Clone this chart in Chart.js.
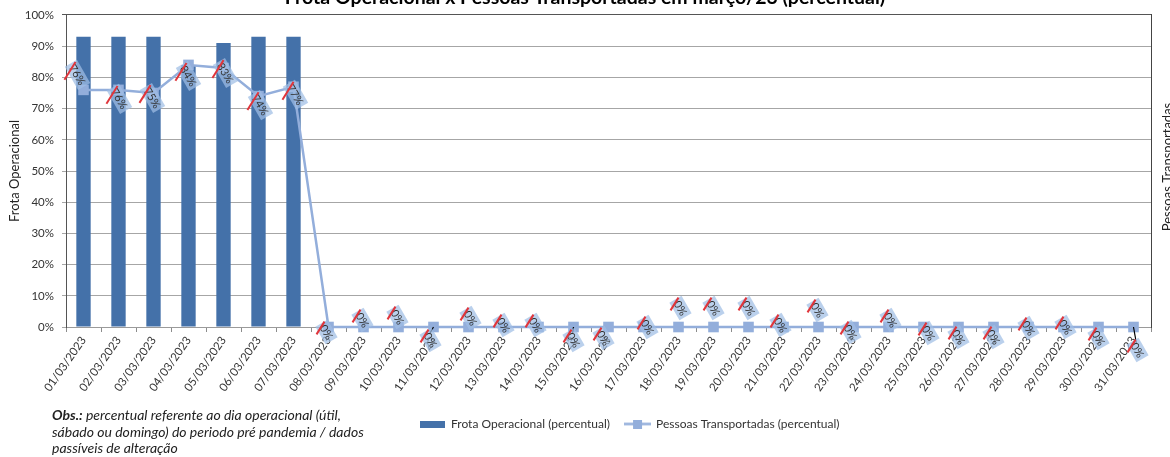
<!DOCTYPE html>
<html><head><meta charset="utf-8">
<script src="https://cdn.jsdelivr.net/npm/chart.js@4.4.1/dist/chart.umd.min.js"></script>
<style>html,body{margin:0;padding:0;background:#fff;overflow:hidden}#wrap{width:1170px;height:457px;position:relative}</style>
</head><body><div id="wrap"><canvas id="c" width="1170" height="457"></canvas></div>
<script>
const days = ['01/03/2023','02/03/2023','03/03/2023','04/03/2023','05/03/2023','06/03/2023','07/03/2023','08/03/2023','09/03/2023','10/03/2023','11/03/2023','12/03/2023','13/03/2023','14/03/2023','15/03/2023','16/03/2023','17/03/2023','18/03/2023','19/03/2023','20/03/2023','21/03/2023','22/03/2023','23/03/2023','24/03/2023','25/03/2023','26/03/2023','27/03/2023','28/03/2023','29/03/2023','30/03/2023','31/03/2023'];
const frota = [93,93,93,84,91,93,93,0,0,0,0,0,0,0,0,0,0,0,0,0,0,0,0,0,0,0,0,0,0,0,0];
const pessoas = [76,76,75,84,83,74,77,0,0,0,0,0,0,0,0,0,0,0,0,0,0,0,0,0,0,0,0,0,0,0,0];
const titleText = 'Frota Operacional x Pessoas Transportadas em março/23 (percentual)';
const leftTitle = 'Frota Operacional';
const rightTitle = 'Pessoas Transportadas';
const obsLines = ['sábado ou domingo) do periodo pré pandemia / dados','passíveis de alteração'];

// label placement (style only)
const labelDx = [-6,1,-1,0,2,2,2,-2,-1,-1,-3,2,0,-3,0,-5,4,2,0,0,-3,-1,-3,2,5,0,0,0,2,0,4];
const labelDy = [-15,9,5,11,5,9,8,5,-7,-10,13,-9,-2,-2,13,11,0,-19,-19,-19,-2,-17,5,-7,6,10,10,1,0,11,23];

const FONT = 'Lato, "Liberation Sans", sans-serif';
Chart.defaults.font.family = FONT;
Chart.defaults.color = '#404040';

const BAR_COLOR = '#4471a9';
const LINE_COLOR = '#93aedb';

function makeIcon(kind){
  const cv = document.createElement('canvas');
  if(kind==='bar'){ cv.width=25; cv.height=7; const g=cv.getContext('2d'); g.fillStyle=BAR_COLOR; g.fillRect(0,0,25,7); }
  else { cv.width=27; cv.height=9; const g=cv.getContext('2d'); g.strokeStyle=LINE_COLOR; g.lineWidth=2.5; g.beginPath(); g.moveTo(0,4.5); g.lineTo(27,4.5); g.stroke(); g.fillStyle=LINE_COLOR; g.fillRect(9,0,9,9); }
  return cv;
}
const barIcon = makeIcon('bar'), lineIcon = makeIcon('line');

const layoutPlugin = {
  id:'layoutFix',
  beforeLayout(chart){
    const lg = chart.legend;
    if(lg && !lg.__p){ const f = lg.fit.bind(lg); lg.fit = function(){ f(); this.height = 0; }; lg.__p = true; }
  },
  afterLayout(chart){
    const lg = chart.legend; if(!lg) return;
    lg.left = 405; lg.right = 1120; lg.top = 403; lg.bottom = 450;
    lg.width = lg.right - lg.left; lg.height = lg.bottom - lg.top;
  }
};

const labelsPlugin = {
  id:'dataLabels',
  afterDatasetsDraw(chart){
    const meta = chart.getDatasetMeta(1); const c = chart.ctx;
    meta.data.forEach((pt,i)=>{
      const txt = pessoas[i] + '%';
      const cx = pt.x + labelDx[i], cy = pt.y + labelDy[i];
      c.save();
      c.font = '11px ' + FONT;
      const L = c.measureText(txt).width + 5, H = 14;
      if(labelDy[i] >= 13){ c.strokeStyle='#000'; c.lineWidth=1.2; c.beginPath(); c.moveTo(pt.x, pt.y); c.lineTo(cx-1, cy-6); c.stroke(); }
      c.translate(cx, cy); c.rotate(Math.PI/3);
      c.fillStyle = 'rgba(160,190,228,0.72)';
      c.fillRect(-L/2, -H/2, L, H);
      c.fillStyle = '#333'; c.textAlign='center'; c.textBaseline='middle';
      c.fillText(txt, 0, 0.5);
      c.restore();
      const two = txt.length <= 2;
      const len = two ? 15 : 21;
      const ox = cx + (two ? -6 : -7.5), oy = cy - 4;
      const a = -58 * Math.PI/180;
      c.save(); c.strokeStyle = '#e0353b'; c.lineWidth = 2;
      c.beginPath(); c.moveTo(ox - Math.cos(a)*len/2, oy - Math.sin(a)*len/2); c.lineTo(ox + Math.cos(a)*len/2, oy + Math.sin(a)*len/2); c.stroke();
      c.restore();
    });
  },
  afterDraw(chart){
    const c = chart.ctx; c.save();
    c.fillStyle = '#222'; c.textBaseline = 'alphabetic'; c.textAlign='left';
    c.font = 'italic bold 14px ' + FONT; c.fillText('Obs.:', 52, 420);
    const w = c.measureText('Obs.:').width;
    c.font = 'italic 14px ' + FONT; c.fillText(' percentual referente ao dia operacional (útil,', 52 + w, 420);
    c.fillText(obsLines[0], 52, 437);
    c.fillText(obsLines[1], 52, 453);
    const ca = chart.chartArea;
    c.font = '13px ' + FONT; c.fillStyle = '#222'; c.textAlign='center'; c.textBaseline='middle';
    c.translate(1168, (ca.top + ca.bottom)/2 - 4); c.rotate(-Math.PI/2);
    c.fillText(rightTitle, 0, 0);
    c.restore();
  }
};

new Chart(document.getElementById('c'), {
  type:'bar',
  data:{
    labels: days,
    datasets:[
      {type:'bar', label:'Frota Operacional (percentual)', data: frota, backgroundColor: BAR_COLOR, barPercentage:0.41, categoryPercentage:1, yAxisID:'y', order:1},
      {type:'line', label:'Pessoas Transportadas (percentual)', data: pessoas, borderColor: LINE_COLOR, backgroundColor: LINE_COLOR, borderWidth:2.5, pointStyle:'rect', pointRadius:7.5, pointBackgroundColor: LINE_COLOR, pointBorderWidth:0, tension:0, yAxisID:'y2', order:0, clip:false}
    ]
  },
  options:{
    responsive:false, animation:false,
    layout:{padding:0},
    plugins:{
      title:{display:true, text:titleText, font:{size:19.5, weight:'bold'}, color:'#000', padding:{top:-14, bottom:5.6}},
      legend:{display:true, position:'bottom', align:'start',
        labels:{usePointStyle:true, pointStyleWidth:25, boxHeight:12, font:{size:12}, color:'#333', padding:15,
          generateLabels(chart){
            const items = Chart.defaults.plugins.legend.labels.generateLabels(chart);
            items.forEach(it=>{ it.pointStyle = it.datasetIndex===0 ? barIcon : lineIcon; });
            return items.sort((a,b)=>a.datasetIndex-b.datasetIndex);
          }}},
      tooltip:{enabled:false}
    },
    scales:{
      x:{
        grid:{display:true, drawOnChartArea:false, tickLength:5, color:'#8c8c8c', offset:true},
        border:{color:'#9a9a9a'},
        ticks:{minRotation:55, maxRotation:55, autoSkip:false, font:{size:11.5}, color:'#333', padding:2},
        afterFit(s){ s.height = 130; }
      },
      y:{
        min:0, max:100,
        ticks:{stepSize:10, callback:v=>v+'%', font:{size:11.5}, color:'#333', padding:8},
        grid:{color:c=> (c.tick && c.tick.value===100) ? '#555' : '#a6a6a6', tickLength:4},
        border:{color:'#555'},
        title:{display:true, text:leftTitle, font:{size:13}, color:'#222', padding:{top:7, bottom:0}},
        afterFit(s){ s.width = 66; }
      },
      y2:{
        position:'right', min:0, max:100,
        ticks:{display:false},
        grid:{drawOnChartArea:false, drawTicks:false},
        border:{color:'#444'},
        title:{display:false},
        afterFit(s){ s.width = 19; }
      }
    }
  },
  plugins:[layoutPlugin, labelsPlugin]
});
</script></body></html>
